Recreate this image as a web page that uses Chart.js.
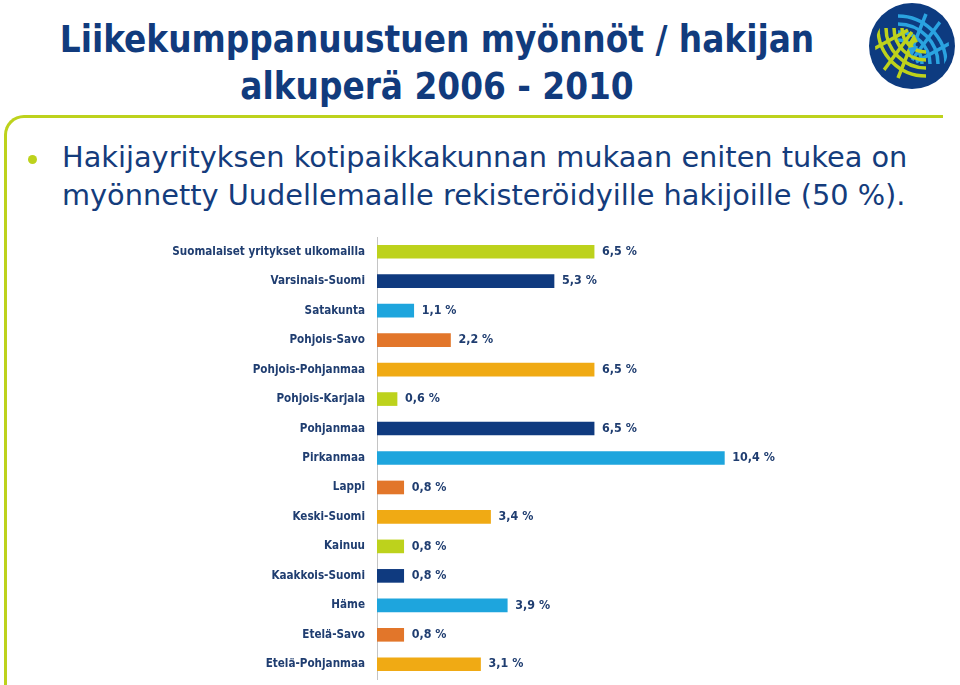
<!DOCTYPE html>
<html>
<head>
<meta charset="utf-8">
<script src="https://cdn.jsdelivr.net/npm/chart.js@4"></script>
<style>
  html, body { margin: 0; padding: 0; background: #fff; }
  body { width: 960px; height: 685px; position: relative; overflow: hidden; font-family: "DejaVu Sans Condensed", "DejaVu Sans", sans-serif; }
  #title { position: absolute; left: 0; top: 16px; width: 874px; text-align: center; color: #113b7d; font-weight: bold; font-size: 36.5px; line-height: 47px; }
  #frame { position: absolute; left: 4px; top: 115px; width: 936px; height: 640px; border-top: 3px solid #bdd21c; border-left: 3px solid #bdd21c; border-top-left-radius: 20px; }
  #bullet { position: absolute; left: 28px; top: 155px; width: 9px; height: 9px; border-radius: 50%; background: #bdd21c; }
  #text { position: absolute; left: 62px; top: 138px; color: #143c7c; font-family: "DejaVu Sans", sans-serif; font-size: 28.8px; line-height: 38px; }
  #logo { position: absolute; left: 868px; top: 2px; }
  #wrap { position: absolute; left: 0; top: 231px; width: 960px; height: 455px; }
</style>
</head>
<body>
<div id="title">Liikekumppanuustuen myönnöt / hakijan<br>alkuperä 2006 - 2010</div>
<div id="frame"></div>
<div id="bullet"></div>
<div id="text">Hakijayrityksen kotipaikkakunnan mukaan eniten tukea on<br>myönnetty Uudellemaalle rekisteröidyille hakijoille (50 %).</div>
<svg id="logo" width="88" height="88" viewBox="0 0 88 88">
  <defs><clipPath id="globe"><circle cx="44" cy="44" r="37"/></clipPath></defs>
  <circle cx="44" cy="44" r="43" fill="#0d3b80"/>
  <g clip-path="url(#globe)" fill="none" stroke-width="3.5">
    <g stroke="#2aa3e0">
      <path d="M30 38 A24 24 0 0 1 54 62"/>
      <path d="M30 30 A32 32 0 0 1 62 62"/>
      <path d="M30 22 A40 40 0 0 1 70 62"/>
      <path d="M30 14 A48 48 0 0 1 78 62"/>
      <path d="M44 58 L72 20"/>
      <path d="M42 52 L58 12"/>
      <path d="M48 60 L84 40"/>
    </g>
    <g stroke="#bdd21c">
      <path d="M58 50 A24 24 0 0 1 34 26"/>
      <path d="M58 58 A32 32 0 0 1 26 26"/>
      <path d="M58 66 A40 40 0 0 1 18 26"/>
      <path d="M58 74 A48 48 0 0 1 10 26"/>
      <path d="M44 30 L16 68"/>
      <path d="M46 36 L30 76"/>
      <path d="M40 28 L4 48"/>
    </g>
  </g>
  <path d="M40 46 L50 44 L44 54 Z" fill="#2aa3e0"/>
  <path d="M50 40 L40 42 L46 32 Z" fill="#bdd21c"/>
</svg>
<div id="wrap"><canvas id="chart"></canvas></div>
<script>
const regions = [
  "Suomalaiset yritykset ulkomailla", "Varsinais-Suomi", "Satakunta", "Pohjois-Savo",
  "Pohjois-Pohjanmaa", "Pohjois-Karjala", "Pohjanmaa", "Pirkanmaa", "Lappi",
  "Keski-Suomi", "Kainuu", "Kaakkois-Suomi", "Häme", "Etelä-Savo", "Etelä-Pohjanmaa"
];
const shares = [6.5, 5.3, 1.1, 2.2, 6.5, 0.6, 6.5, 10.4, 0.8, 3.4, 0.8, 0.8, 3.9, 0.8, 3.1];
const palette = ["#bdd21c", "#0f3a7f", "#1ea5dd", "#e2762a", "#f0aa14"];

const navy = "#1f3d70";
const barColors = regions.map((r, i) => palette[i % palette.length]);

const valueLabels = {
  id: "valueLabels",
  afterDatasetsDraw(chart) {
    const ctx = chart.ctx;
    const meta = chart.getDatasetMeta(0);
    ctx.save();
    ctx.font = "bold 12.4px 'DejaVu Sans Condensed', 'DejaVu Sans', sans-serif";
    ctx.fillStyle = navy;
    ctx.textAlign = "left";
    ctx.textBaseline = "middle";
    meta.data.forEach((bar, i) => {
      const txt = shares[i].toFixed(1).replace(".", ",") + " %";
      ctx.fillText(txt, bar.x + 8, bar.y);
    });
    ctx.restore();
  },
};

const ctx = document.getElementById("chart").getContext("2d");
const myChart = new Chart(ctx, {
  type: "bar",
  data: {
    labels: regions,
    datasets: [{
      data: shares,
      backgroundColor: barColors,
      barThickness: 13,
    }],
  },
  options: {
    indexAxis: "y",
    responsive: true,
    maintainAspectRatio: false,
    animation: false,
    layout: { padding: { top: 6, bottom: 7, right: 82 } },
    plugins: { legend: { display: false }, tooltip: { enabled: false } },
    scales: {
      x: { display: false, min: 0, max: 15 },
      y: {
        afterFit(scale) {
          scale.width = 377;
          scale.paddingTop = 0;
          scale.paddingBottom = 0;
        },
        grid: { display: false },
        border: { display: true, color: "#c4c4c4", width: 1 },
        ticks: {
          color: navy,
          padding: 4,
          font: { family: "'DejaVu Sans Condensed', 'DejaVu Sans', sans-serif", size: 11.6, weight: "bold" },
        },
      },
    },
  },
  plugins: [valueLabels],
});
</script>
</body>
</html>
